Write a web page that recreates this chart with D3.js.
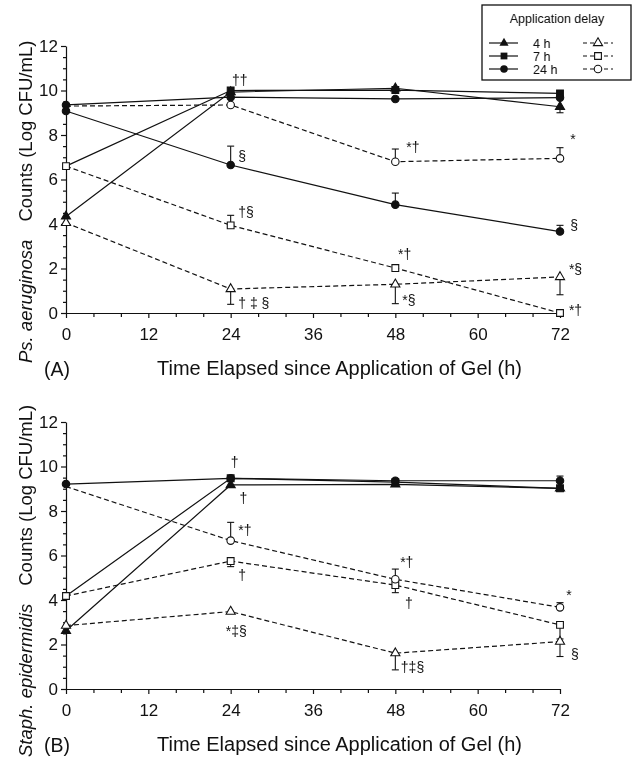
<!DOCTYPE html>
<html>
<head>
<meta charset="utf-8">
<script src="https://cdn.jsdelivr.net/npm/d3@7"></script>
<style>
  body { margin: 0; background: #fff; }
  #chart { filter: grayscale(1); }
  svg text { font-family: "Liberation Sans", Arial, sans-serif; fill: #111; }
</style>
</head>
<body>
<svg id="chart" width="632" height="759"></svg>
<script>
// ---- data ----
var times = [0, 24, 48, 72];
var xTicks = [0, 12, 24, 36, 48, 60, 72];
var yTicks = [0, 2, 4, 6, 8, 10, 12];
var delayLabels = ["4 h", "7 h", "24 h"];
var xTitle = "Time Elapsed since Application of Gel (h)";

// (A) Ps. aeruginosa
var paSolid4h = [4.34, 9.93, 10.1, 9.27];
var paSolid7h = [6.6, 10.0, 10.02, 9.87];
var paSolid24h = [9.35, 9.7, 9.62, 9.68];
var paSolidFall = [9.08, 6.65, 4.87, 3.66];
var paGel4h = [4.05, 1.08, 1.29, 1.62];
var paGel7h = [6.6, 3.94, 2.02, 0.0];
var paGel24h = [9.3, 9.35, 6.8, 6.95];
var paSolid4hErr = [null, null, null, 9.0];
var paSolidFallErr = [null, 7.5, 5.39, 3.94];
var paGel4hErr = [null, 0.39, 0.42, 0.82];
var paGel7hErr = [null, 4.39, null, null];
var paGel24hErr = [null, null, 7.37, 7.43];
var paNotes = [
  [24.2, 10.23, "††"], [25.1, 6.85, "§"], [25.1, 4.31, "†§"], [25.1, 0.24, "† ‡ §"],
  [49.6, 7.24, "*†"], [73.5, 7.58, "*"], [48.4, 2.44, "*†"], [49.0, 0.34, "*§"],
  [73.5, 3.72, "§"], [73.3, 1.77, "*§"], [73.3, -0.1, "*†"]
];

// (B) Staph. epidermidis
var pbSolid4h = [2.62, 9.17, 9.2, 9.02];
var pbSolid7h = [4.18, 9.47, 9.3, 9.02];
var pbSolid24h = [9.21, 9.47, 9.36, 9.36];
var pbGel4h = [2.85, 3.48, 1.61, 2.13];
var pbGel7h = [4.18, 5.75, 4.67, 2.88];
var pbGel24h = [9.1, 6.67, 4.93, 3.67];
var pbSolid24hErr = [null, null, null, 9.57];
var pbGel4hErr = [null, null, 0.86, 1.46];
var pbGel7hErr = [null, 5.5, 4.33, 2.25];
var pbGel24hErr = [null, 7.49, 5.39, 3.88];
var pbNotes = [
  [24.0, 9.96, "†"], [25.3, 8.38, "†"], [25.1, 6.9, "*†"], [25.1, 4.92, "†"],
  [23.3, 2.38, "*‡§"], [48.7, 5.5, "*†"], [49.4, 3.65, "†"], [48.8, 0.78, "†‡§"],
  [72.9, 4.0, "*"], [73.6, 1.34, "§"]
];

// ---- drawing ----
var svg = d3.select("#chart");
var ink = "#111";

var x = d3.scaleLinear().domain([0, 72]).range([66, 560]);

var shapes = { triangle: d3.symbolTriangle, square: d3.symbolSquare, circle: d3.symbolCircle };
var sizes = { triangle: 36, square: 46, circle: 44 };

function sym(shape) {
  return d3.symbol().type(shapes[shape]).size(sizes[shape])();
}

function panel(opt) {
  var y = d3.scaleLinear().domain([0, 12]).range([opt.bottom, opt.top]);
  var g = svg.append("g");

  // axes
  var ya = g.append("g").attr("transform", "translate(" + x(0) + ",0)")
    .call(d3.axisLeft(y).tickValues(yTicks).tickSize(5).tickSizeOuter(0).tickPadding(3));
  g.append("g").attr("transform", "translate(" + x(0) + ",0)")
    .call(d3.axisLeft(y).tickValues(d3.range(0.5, 12, 0.5).filter(function(d) { return d % 2 !== 0; }))
      .tickSize(3).tickSizeOuter(0).tickFormat(""))
    .select(".domain").remove();
  var xa = g.append("g").attr("transform", "translate(0," + y(0) + ")")
    .call(d3.axisBottom(x).tickValues(xTicks).tickSize(5).tickSizeOuter(0).tickPadding(10));
  g.append("g").attr("transform", "translate(0," + y(0) + ")")
    .call(d3.axisBottom(x).tickValues(d3.range(4, 72, 4).filter(function(d) { return d % 12 !== 0; }))
      .tickSize(4).tickSizeOuter(0).tickFormat(""))
    .select(".domain").remove();
  g.selectAll(".domain, .tick line").attr("stroke", ink).attr("stroke-width", 1.2);
  [ya, xa].forEach(function(a) {
    a.attr("font-size", 17).attr("font-family", null);
    a.selectAll("text").attr("fill", ink);
  });

  // lines
  var line = d3.line().x(function(d, i) { return x(times[i]); }).y(function(d) { return y(d); });
  opt.series.forEach(function(s) {
    g.append("path").datum(s.values)
      .attr("d", line)
      .attr("fill", "none")
      .attr("stroke", ink)
      .attr("stroke-width", 1.2)
      .attr("stroke-dasharray", s.dashed ? "5,3" : null);
  });

  // error bars
  opt.series.forEach(function(s) {
    if (!s.err) return;
    s.err.forEach(function(e, i) {
      if (e == null) return;
      var cx = x(times[i]);
      g.append("line").attr("x1", cx).attr("x2", cx)
        .attr("y1", y(s.values[i])).attr("y2", y(e))
        .attr("stroke", ink).attr("stroke-width", 1.1);
      g.append("line").attr("x1", cx - 3.5).attr("x2", cx + 3.5)
        .attr("y1", y(e)).attr("y2", y(e))
        .attr("stroke", ink).attr("stroke-width", 1.1);
    });
  });

  // markers: filled first, open on top
  var ordered = opt.series.filter(function(s) { return !s.dashed; })
    .concat(opt.series.filter(function(s) { return s.dashed; }));
  ordered.forEach(function(s) {
    g.selectAll(null)
      .data(s.values.map(function(v, i) { return { v: v, i: i }; })
        .filter(function(d) { return (s.hide || []).indexOf(d.i) < 0; }))
      .enter().append("path")
      .attr("d", sym(s.shape))
      .attr("transform", function(d) { return "translate(" + x(times[d.i]) + "," + y(d.v) + ")"; })
      .attr("fill", s.dashed ? "#fff" : ink)
      .attr("stroke", ink)
      .attr("stroke-width", 1.1);
  });

  // significance notes
  g.append("g").attr("class", "notes")
    .selectAll("text").data(opt.notes).enter().append("text")
    .attr("x", function(d) { return x(d[0]); })
    .attr("y", function(d) { return y(d[1]); })
    .attr("font-size", 14)
    .attr("fill", ink)
    .text(function(d) { return d[2]; });

  // titles
  g.append("text").attr("x", 157).attr("y", y(0) + 62)
    .attr("font-size", 19.5)
    .attr("textLength", 365).attr("lengthAdjust", "spacingAndGlyphs")
    .text(xTitle);
  g.append("text").attr("x", 44).attr("y", y(0) + 63)
    .attr("font-size", 19.5).text(opt.tag);

  var yt = g.append("text")
    .attr("transform", "rotate(-90)")
    .attr("x", -opt.titleStart).attr("y", 32)
    .attr("font-size", 18.5);
  yt.append("tspan").attr("font-style", "italic").text(opt.species);
  yt.append("tspan").attr("dx", 18).text("Counts (Log CFU/mL)");
}

panel({
  top: 46, bottom: 313, tag: "(A)", species: "Ps. aeruginosa", titleStart: 363,
  notes: paNotes,
  series: [
    { values: paSolid4h, err: paSolid4hErr, shape: "triangle" },
    { values: paSolid7h, shape: "square", hide: [0] },
    { values: paSolid24h, shape: "circle" },
    { values: paSolidFall, err: paSolidFallErr, shape: "circle" },
    { values: paGel4h, err: paGel4hErr, shape: "triangle", dashed: true },
    { values: paGel7h, err: paGel7hErr, shape: "square", dashed: true },
    { values: paGel24h, err: paGel24hErr, shape: "circle", dashed: true, hide: [0] }
  ]
});

panel({
  top: 422, bottom: 689, tag: "(B)", species: "Staph. epidermidis", titleStart: 757,
  notes: pbNotes,
  series: [
    { values: pbSolid4h, shape: "triangle" },
    { values: pbSolid7h, shape: "square", hide: [0] },
    { values: pbSolid24h, err: pbSolid24hErr, shape: "circle" },
    { values: pbGel4h, err: pbGel4hErr, shape: "triangle", dashed: true },
    { values: pbGel7h, err: pbGel7hErr, shape: "square", dashed: true },
    { values: pbGel24h, err: pbGel24hErr, shape: "circle", dashed: true, hide: [0] }
  ]
});

// legend
var lg = svg.append("g");
lg.append("rect").attr("x", 482).attr("y", 5).attr("width", 149).attr("height", 75)
  .attr("fill", "#fff").attr("stroke", ink).attr("stroke-width", 1.3);
lg.append("text").attr("x", 557).attr("y", 23).attr("text-anchor", "middle")
  .attr("font-size", 12.5).text("Application delay");
var legendShapes = ["triangle", "square", "circle"];
var rows = lg.selectAll("g.row").data(delayLabels).enter().append("g")
  .attr("class", "row")
  .attr("transform", function(d, i) { return "translate(0," + (43 + i * 13) + ")"; });
rows.append("line").attr("x1", 489).attr("x2", 518).attr("stroke", ink).attr("stroke-width", 1.2);
rows.append("path").attr("d", function(d, i) { return sym(legendShapes[i]); })
  .attr("transform", "translate(504,0)").attr("fill", ink);
rows.append("text").attr("x", 533).attr("y", 4.5).attr("font-size", 12.5).text(function(d) { return d; });
rows.append("line").attr("x1", 583).attr("x2", 613).attr("stroke", ink).attr("stroke-width", 1.1)
  .attr("stroke-dasharray", "4,3");
rows.append("path").attr("d", function(d, i) { return sym(legendShapes[i]); })
  .attr("transform", "translate(598,0)").attr("fill", "#fff").attr("stroke", ink).attr("stroke-width", 1.1);
</script>
</body>
</html>
